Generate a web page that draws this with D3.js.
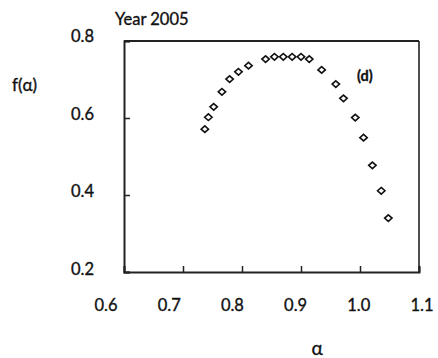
<!DOCTYPE html>
<html>
<head>
<meta charset="utf-8">
<script src="https://cdn.jsdelivr.net/npm/d3@7"></script>
<style>
  html, body { margin: 0; padding: 0; background: #fff; }
  svg { display: block; }
  text { font-family: Lato, "Open Sans", "Liberation Sans", sans-serif; fill: #111; stroke: #111; stroke-width: 0.35; }
</style>
</head>
<body>
<svg id="chart" width="438" height="358"></svg>
<script>
// Multifractal spectrum f(α) for 2005
const alpha = [0.737, 0.743, 0.752, 0.766, 0.779, 0.794, 0.811, 0.840, 0.855, 0.870, 0.885,
               0.900, 0.914, 0.935, 0.959, 0.972, 0.992, 1.006, 1.021, 1.036, 1.048];
const fAlpha = [0.571, 0.602, 0.629, 0.668, 0.701, 0.720, 0.736, 0.753, 0.759, 0.759, 0.759,
                0.759, 0.753, 0.725, 0.688, 0.651, 0.601, 0.549, 0.477, 0.411, 0.340];
const xTicks = [0.6, 0.7, 0.8, 0.9, 1.0, 1.1];
const yTicks = [0.2, 0.4, 0.6, 0.8];
const xTickLabels = ["0.6", "0.7", "0.8", "0.9", "1.0", "1.1"];
const yTickLabels = ["0.2", "0.4", "0.6", "0.8"];

const svg = d3.select("#chart");
const L = 124, R = 419, T = 41, B = 272;

const x = d3.scaleLinear().domain([0.6, 1.1]).range([L, R]);
const y = d3.scaleLinear().domain([0.2, 0.8]).range([B, T]);
// tick labels sit a little further out than the plot frame
const xLab = d3.scaleLinear().domain([0.6, 1.1]).range([106, 422]);
const yLab = d3.scaleLinear().domain([0.2, 0.8]).range([269, 36]);

// frame: top and right edges
svg.append("line").attr("x1", L).attr("x2", R).attr("y1", T).attr("y2", T)
  .attr("stroke", "#222").attr("stroke-width", 2);
svg.append("line").attr("x1", R).attr("x2", R).attr("y1", T).attr("y2", B)
  .attr("stroke", "#222").attr("stroke-width", 1.6);

// axes with inward ticks, labels drawn separately
const xAxis = d3.axisBottom(x).tickValues(xTicks).tickSize(-6).tickFormat("");
const yAxis = d3.axisLeft(y).tickValues(yTicks).tickSize(-6).tickFormat("");

const gx = svg.append("g").attr("transform", `translate(0,${B})`).call(xAxis);
const gy = svg.append("g").attr("transform", `translate(${L},0)`).call(yAxis);
[gx, gy].forEach(g => {
  g.select(".domain").attr("stroke", "#222").attr("stroke-width", 2);
  g.selectAll(".tick line").attr("stroke", "#222").attr("stroke-width", 1.5);
});

svg.append("g").selectAll("text").data(xTicks).join("text")
  .attr("x", d => xLab(d)).attr("y", 305)
  .attr("text-anchor", "middle").attr("dominant-baseline", "central")
  .attr("font-size", 16.5)
  .text((d, i) => xTickLabels[i]);

svg.append("g").selectAll("text").data(yTicks).join("text")
  .attr("x", 94).attr("y", d => yLab(d))
  .attr("text-anchor", "end").attr("dominant-baseline", "central")
  .attr("font-size", 16.5)
  .text((d, i) => yTickLabels[i]);

// titles
svg.append("text").attr("x", 115).attr("y", 19).attr("dominant-baseline", "central")
  .attr("font-size", 16.5).text("Year 2005");
svg.append("text").attr("x", 12).attr("y", 84).attr("dominant-baseline", "central")
  .attr("font-size", 17).text("f(α)");
svg.append("text").attr("x", 317).attr("y", 347).attr("text-anchor", "middle")
  .attr("dominant-baseline", "central").attr("font-size", 19).text("α");
svg.append("text").attr("x", 357).attr("y", 75).attr("dominant-baseline", "central")
  .attr("font-family", "'Liberation Sans', Arial, sans-serif")
  .attr("font-weight", "bold").attr("font-size", 14.5).attr("stroke-width", 0).text("(d)");

// hollow diamond markers
const diamond = "M0,-3.3L3.7,0L0,3.3L-3.7,0Z";
svg.append("g").selectAll("path").data(alpha).join("path")
  .attr("d", diamond)
  .attr("transform", (d, i) => `translate(${x(d)},${y(fAlpha[i])})`)
  .attr("fill", "#fff").attr("stroke", "#111").attr("stroke-width", 1.6);
</script>
</body>
</html>
